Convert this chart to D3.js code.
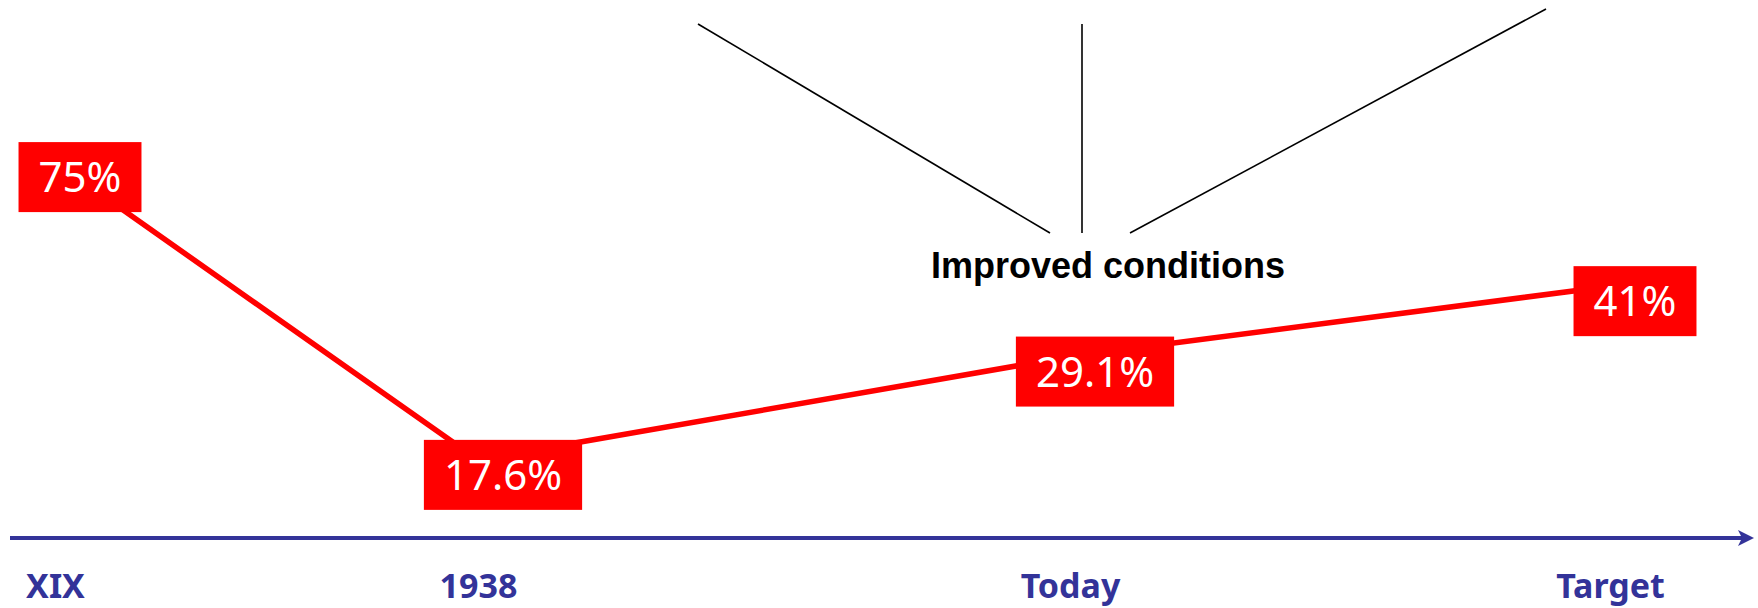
<!DOCTYPE html>
<html lang="en">
<head>
  <meta charset="UTF-8">
  <title>Improved conditions</title>
  <script src="https://d3js.org/d3.v7.min.js"></script>
  <style>
    body { margin: 0; background: #fff; }
    .cat text { font-family: "Comic Sans MS", "Noto Sans", sans-serif; font-weight: bold; font-size: 34px; fill: #333399; }
    .val { font-family: "Comic Sans MS", "Noto Sans", sans-serif; font-size: 42px; fill: #fff; }
    .note { font-family: "Liberation Sans", Arial, sans-serif; font-weight: bold; font-size: 36px; fill: #000; }
  </style>
</head>
<body>
<div class="main"></div>
<script>
  // data
  const categories = ["XIX", "1938", "Today", "Target"];
  const values = [75, 17.6, 29.1, 41];
  const valueLabels = ["75%", "17.6%", "29.1%", "41%"];
  const noteText = "Improved conditions";

  let width = 1758;
  let height = 608;
  let svg = d3.select(".main").append("svg").attr("width", width).attr("height", height).style("display", "block");

  // the timeline is hand spaced, not even
  let xStops = [55, 478, 1070, 1610];
  let x = d3.scaleOrdinal().domain(categories).range(xStops);
  let y = d3.scaleLog().domain([10, 100]).range([576, 103]);

  let axisY = 538;
  let red = "#ff0000";
  let navy = "#333399";

  // annotation: label with three leader lines going up
  svg.append("text").attr("class", "note").attr("x", 1108).attr("y", 278).attr("text-anchor", "middle").text(noteText);
  let leaders = [[698, 24, 1050, 233], [1082, 24, 1082, 233], [1546, 9, 1130, 233]];
  for (let i = 0; i < leaders.length; i++) {
    let l = leaders[i];
    svg.append("line").attr("x1", l[0]).attr("y1", l[1]).attr("x2", l[2]).attr("y2", l[3])
      .style("stroke", "#000").style("stroke-width", 1.6);
  }

  // timeline axis
  svg.append("line").attr("x1", 10).attr("y1", axisY).attr("x2", 1744).attr("y2", axisY)
    .style("stroke", navy).style("stroke-width", 4);
  svg.append("path").attr("d", "M1738,530 L1754,538 L1738,546 L1742,538 Z").style("fill", navy);

  let axis = d3.axisBottom(x).tickSize(0).tickPadding(36);
  let gAxis = svg.append("g").attr("class", "cat").attr("transform", "translate(0," + axisY + ")").call(axis);
  gAxis.select(".domain").remove();

  // red line through the points
  let pts = categories.map((c, i) => ({ cat: c, v: values[i], label: valueLabels[i] }));
  let line = d3.line().x(d => x(d.cat)).y(d => y(d.v));
  svg.append("path").datum(pts).attr("d", line)
    .style("fill", "none").style("stroke", red).style("stroke-width", 5.5).style("stroke-linejoin", "round");

  // value boxes, sitting a little below-right of each point
  let boxDx = 25, boxDy = 15, boxH = 70, pad = 20, fs = 42;
  let boxes = svg.selectAll(".box").data(pts).enter().append("g").attr("class", "box")
    .attr("transform", d => "translate(" + (x(d.cat) + boxDx) + "," + (y(d.v) + boxDy) + ")");
  let rects = boxes.append("rect").style("fill", red);
  let texts = boxes.append("text").attr("class", "val").attr("text-anchor", "middle")
    .attr("x", 0).attr("y", fs * 0.36).text(d => d.label);
  texts.each(function(d, i) {
    let w = this.getComputedTextLength() + pad * 2;
    d3.select(rects.nodes()[i]).attr("x", -w / 2).attr("y", -boxH / 2).attr("width", w).attr("height", boxH);
  });
</script>
</body>
</html>
